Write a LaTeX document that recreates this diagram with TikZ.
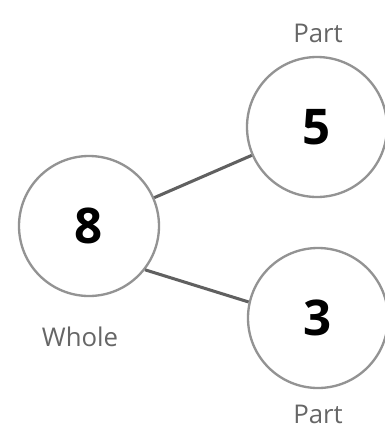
\documentclass[tikz,border=0pt]{standalone}
\usepackage{fontspec}
\setmainfont{Open Sans}
\begin{document}
\begin{tikzpicture}[
    bubble/.style={circle, draw=gray!85, line width=2pt, minimum size=4.2cm, inner sep=0pt, font=\fontsize{42}{46}\selectfont\bfseries},
    tag/.style={text=gray!80!black, font=\fontsize{22}{26}\selectfont},
    link/.style={line width=2.6pt, gray!75!black}
]
    \useasboundingbox (0,0) rectangle (11.55,-12.84);

    % 1. Whole (left)
    \node[bubble] (whole) at (2.67, -6.78) {8};
    \node[tag] (wholelbl) at (2.4, -10.11) {Whole};

    % 2. Parts (right column)
    \node[bubble] (parta) at (9.51, -3.81) {5};
    \node[bubble] (partb) at (9.54, -9.54) {3};
    \node[tag] (partalbl) at (9.54, -0.99) {Part};
    \node[tag] (partblbl) at (9.54, -12.42) {Part};

    % Links
    \draw[link] (whole) -- (parta);
    \draw[link] (whole.-38) -- (partb.167);

\end{tikzpicture}
\end{document}
